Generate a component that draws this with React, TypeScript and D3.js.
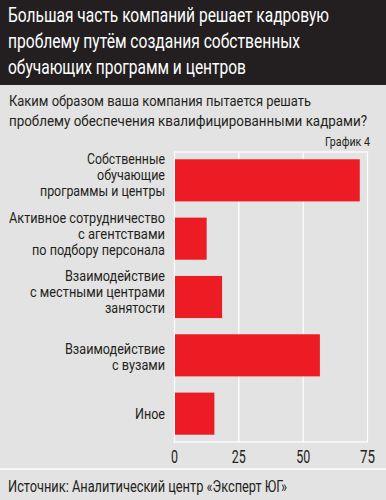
import React, { useRef, useEffect } from 'react';
import * as d3 from 'd3';

const titleLines = [
  'Большая часть компаний решает кадровую',
  'проблему путём создания собственных',
  'обучающих программ и центров',
];
const subtitleLines = [
  'Каким образом ваша компания пытается решать',
  'проблему обеспечения квалифицированными кадрами?',
];
const chartTag = 'График 4';
const categories = ['own', 'agencies', 'jobcenters', 'universities', 'other'];
const categoryLabels = [
  ['Собственные', 'обучающие', 'программы и центры'],
  ['Активное сотрудничество', 'с агентствами', 'по подбору персонала'],
  ['Взаимодействие', 'с местными центрами', 'занятости'],
  ['Взаимодействие', 'с вузами'],
  ['Иное'],
];
const values = [72, 12.5, 18.5, 56.5, 15.5];
const xTicks = [0, 25, 50, 75];
const sourceText = 'Источник: Аналитический центр «Эксперт ЮГ»';

const FONT = 'Roboto, "Liberation Sans", sans-serif';

// the original uses a condensed face; squeeze each text to its printed width
const fitWidth: Record<string, number> = {
  'Большая часть компаний решает кадровую': 321,
  'проблему путём создания собственных': 292,
  'обучающих программ и центров': 238,
  'Каким образом ваша компания пытается решать': 302,
  'проблему обеспечения квалифицированными кадрами?': 358,
  'График 4': 45,
  'Собственные': 78,
  'обучающие': 68,
  'программы и центры': 125,
  'Активное сотрудничество': 156,
  'с агентствами': 87,
  'по подбору персонала': 133,
  'Взаимодействие': 100,
  'с местными центрами': 135,
  'занятости': 60,
  'с вузами': 53,
  'Иное': 30,
  '0': 7,
  '25': 14,
  '50': 14,
  '75': 15,
  'Источник: Аналитический центр «Эксперт ЮГ»': 279,
};

const fit = (sel: any) =>
  sel.each(function (this: SVGTextElement) {
    const w = fitWidth[this.textContent || ''];
    if (w) d3.select(this).attr('textLength', w).attr('lengthAdjust', 'spacingAndGlyphs');
  });

const App = () => {
  const svgRef = useRef<SVGSVGElement>(null);

  useEffect(() => {
    const svg = d3.select(svgRef.current);
    svg.selectAll('*').remove();

    const W = 386, H = 500;
    const dark = '#231f20';
    const bg = '#e3e3e3';
    const red = '#ed1c24';

    svg.append('rect').attr('width', W).attr('height', H).attr('fill', bg);
    svg.append('rect').attr('width', W).attr('height', 85).attr('fill', dark);

    // title
    svg.append('g').selectAll('text')
      .data(titleLines)
      .enter().append('text')
      .attr('x', 8)
      .attr('y', (d, i) => 21.5 + i * 26)
      .attr('fill', '#fff')
      .attr('font-size', 19.5)
      .text(d => d)
      .call(fit);

    // subtitle
    svg.append('g').selectAll('text')
      .data(subtitleLines)
      .enter().append('text')
      .attr('x', 9)
      .attr('y', (d, i) => 106 + i * 20)
      .attr('fill', dark)
      .attr('font-size', 15)
      .text(d => d)
      .call(fit);

    svg.append('text')
      .attr('x', 370).attr('y', 146)
      .attr('text-anchor', 'end')
      .attr('fill', dark)
      .attr('font-size', 13.5)
      .text(chartTag)
      .call(fit);

    const x = d3.scaleLinear().domain([0, 75]).range([174.5, 367.5]);
    const y = d3.scaleBand()
      .domain(categories)
      .range([152, 442])
      .paddingInner(0.278)
      .paddingOuter(0.125);

    const plot = svg.append('g');
    plot.append('rect')
      .attr('x', x(0)).attr('y', 152)
      .attr('width', x(75) - x(0)).attr('height', 442 - 152)
      .attr('fill', 'none')
      .attr('stroke', '#fff')
      .attr('stroke-width', 1.2);

    plot.selectAll('.grid')
      .data(xTicks.slice(1, -1))
      .enter().append('line')
      .attr('class', 'grid')
      .attr('x1', d => x(d)).attr('x2', d => x(d))
      .attr('y1', 152).attr('y2', 442)
      .attr('stroke', '#fff')
      .attr('stroke-width', 1.2);

    plot.selectAll('.bar')
      .data(values)
      .enter().append('rect')
      .attr('class', 'bar')
      .attr('x', x(0) + 0.5)
      .attr('y', (d, i) => y(categories[i])!)
      .attr('width', d => x(d) - x(0) - 0.5)
      .attr('height', y.bandwidth())
      .attr('fill', red);

    // category labels, first baseline depends on how many lines
    const firstOffset: Record<number, number> = { 1: 5, 2: -1, 3: -16 };
    const labels = svg.append('g');
    categoryLabels.forEach((lines, i) => {
      const cy = y(categories[i])! + y.bandwidth() / 2;
      const lh = 16;
      lines.forEach((t, j) => {
        labels.append('text')
          .attr('x', 165)
          .attr('y', cy + firstOffset[lines.length] + j * lh)
          .attr('text-anchor', 'end')
          .attr('fill', dark)
          .attr('font-size', 14.5)
          .text(t)
          .call(fit);
      });
    });

    // x axis labels
    svg.append('g').selectAll('text')
      .data(xTicks)
      .enter().append('text')
      .attr('x', d => x(d))
      .attr('y', 463)
      .attr('text-anchor', 'middle')
      .attr('fill', dark)
      .attr('font-size', 18)
      .text(d => d)
      .call(fit);

    svg.append('line')
      .attr('x1', 0).attr('x2', W)
      .attr('y1', 469).attr('y2', 469)
      .attr('stroke', '#fff').attr('stroke-width', 1.5);

    svg.append('text')
      .attr('x', 8).attr('y', 492)
      .attr('fill', dark)
      .attr('font-size', 17)
      .text(sourceText)
      .call(fit);
  }, []);

  return (
    <div style={{ position: 'fixed', left: 0, top: 0 }}>
      <svg ref={svgRef} width={386} height={500} style={{ display: 'block', fontFamily: FONT }} />
    </div>
  );
};

export default App;
